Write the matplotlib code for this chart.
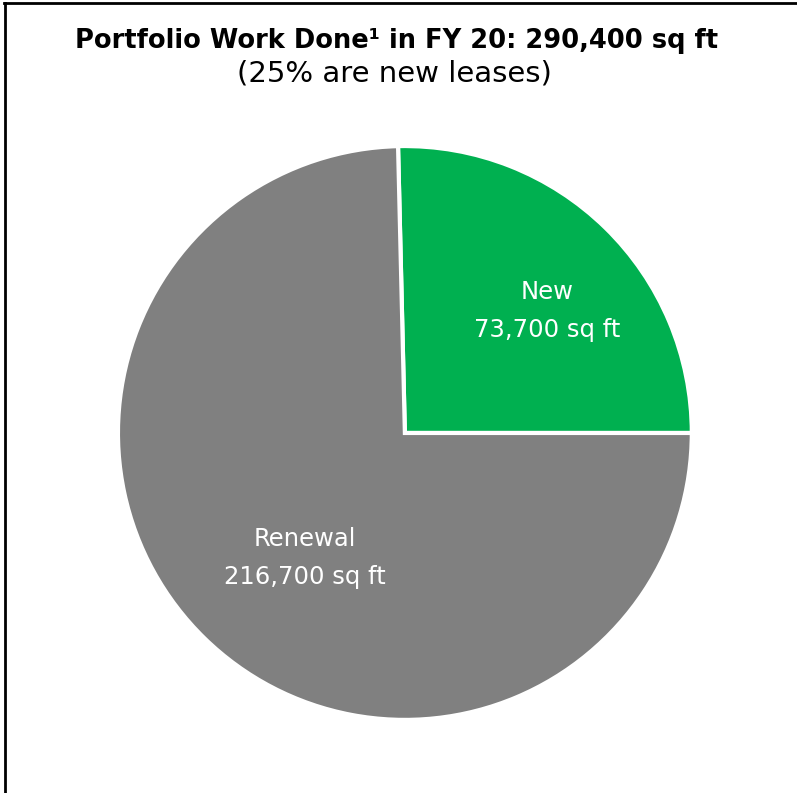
# Portfolio work done in FY 20, split into new leases and renewals
import matplotlib.pyplot as plt
from matplotlib.lines import Line2D

labels = ['New', 'Renewal']
sqft = [73700, 216700]
colors = ['#00B050', '#808080']
total = sum(sqft)

plt.rcParams['font.family'] = ['DejaVu Sans']

fig = plt.figure(figsize=(7.97, 7.93), dpi=100)
ax = fig.add_axes([0.148, 0.092, 0.720, 0.724])

ax.pie(sqft, colors=colors, startangle=0, counterclock=True,
       wedgeprops=dict(edgecolor='white', linewidth=3))
ax.set_xlim(-1.0, 1.0)
ax.set_ylim(-1.0, 1.0)
ax.set_aspect('equal')

# slice labels
ax.text(0.495, 0.425, f'{labels[0]}\n{sqft[0]:,} sq ft', color='white',
        ha='center', va='center', fontsize=17.5, linespacing=1.75)
ax.text(-0.348, -0.436, f'{labels[1]}\n{sqft[1]:,} sq ft', color='white',
        ha='center', va='center', fontsize=17.5, linespacing=1.75)

# titles
share = round(sqft[0] / total * 100)
fig.text(0.497, 0.948, f'Portfolio Work Done\u00b9 in FY 20: {total:,} sq ft',
         ha='center', va='center', fontsize=18.5, fontweight='bold')
fig.text(0.495, 0.907, f'({share}% are new leases)',
         ha='center', va='center', fontsize=21)

# frame on left and top
fig.add_artist(Line2D([0.0065, 0.0065], [0, 0.996], color='black', lw=2,
                      transform=fig.transFigure))
fig.add_artist(Line2D([0.0055, 1.0], [0.996, 0.996], color='black', lw=2,
                      transform=fig.transFigure))

plt.savefig('out.png', dpi=100)
